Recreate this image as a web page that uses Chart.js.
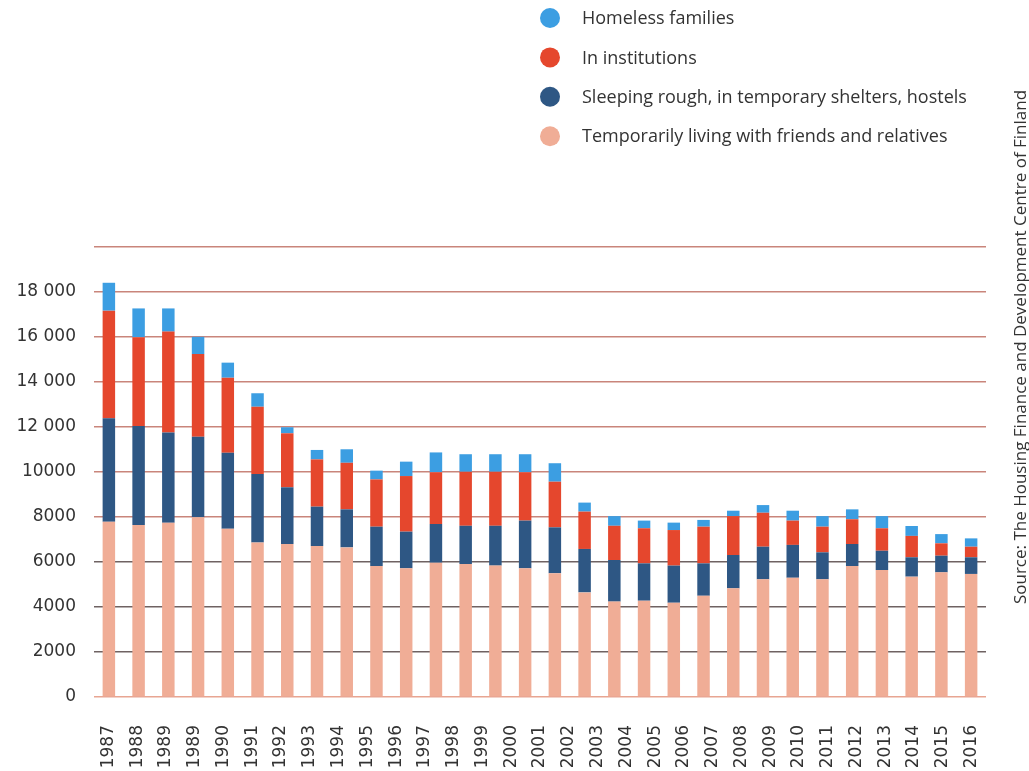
<!DOCTYPE html>
<html>
<head>
<meta charset="utf-8">
<script src="https://cdn.jsdelivr.net/npm/chart.js@4/dist/chart.umd.min.js"></script>
<style>
  html, body { margin: 0; padding: 0; background: #fff; }
  #wrap { width: 1029px; height: 771px; position: relative; }
</style>
</head>
<body>
<div id="wrap"><canvas id="homelessChart"></canvas></div>
<script>
// years of the bars (one bar per year)
const years = ['1987', '1988', '1989', '1990', '1991', '1992', '1993', '1994', '1995', '1996',
  '1997', '1998', '1999', '2000', '2001', '2002', '2003', '2004', '2005', '2006',
  '2007', '2008', '2009', '2010', '2011', '2012', '2013', '2014', '2015', '2016'];

// labels as printed under the axis (the original repeats 1989)
const printedYears = ['1987', '1988', '1989', '1989', '1990', '1991', '1992', '1993', '1994', '1995',
  '1996', '1997', '1998', '1999', '2000', '2001', '2002', '2003', '2004', '2005', '2006',
  '2007', '2008', '2009', '2010', '2011', '2012', '2013', '2014', '2015', '2016'];

const withFriends = [7790, 7640, 7750, 7990, 7480, 6870, 6800, 6710, 6650, 5820,
  5720, 5970, 5910, 5840, 5720, 5500, 4650, 4240, 4280, 4190,
  4500, 4830, 5230, 5300, 5230, 5820, 5640, 5350, 5540, 5470];
const sleepingRough = [4600, 4400, 4010, 3580, 3380, 3040, 2520, 1750, 1690, 1750,
  1630, 1720, 1700, 1770, 2120, 2040, 1930, 1850, 1660, 1650,
  1440, 1480, 1450, 1460, 1200, 980, 860, 860, 740, 740];
const institutions = [4780, 3950, 4480, 3670, 3330, 2990, 2400, 2100, 2070, 2100,
  2470, 2300, 2400, 2400, 2150, 2030, 1660, 1520, 1560, 1580,
  1630, 1730, 1510, 1080, 1140, 1100, 1000, 950, 550, 470];
const families = [1240, 1280, 1030, 770, 670, 600, 270, 420, 600, 390,
  640, 880, 780, 780, 800, 820, 400, 430, 340, 330,
  300, 240, 340, 440, 470, 440, 540, 440, 410, 370];

const yTickLabels = ['0', '2000', '4000', '6000', '8000', '10000', '12 000', '14 000', '16 000', '18 000', ''];

const seriesNames = [
  'Temporarily living with friends and relatives',
  'Sleeping rough, in temporary shelters, hostels',
  'In institutions',
  'Homeless families'
];
const seriesColors = ['#f0ad96', '#2e5784', '#e5472d', '#3c9ee2'];

const sourceText = 'Source: The Housing Finance and Development Centre of Finland';

// legend list in the top right corner, drawn on the canvas
const sideLegend = {
  id: 'sideLegend',
  afterDraw(chart) {
    const ctx = chart.ctx;
    const sets = chart.data.datasets.slice().reverse();
    ctx.save();
    ctx.font = '18px "Open Sans"';
    ctx.textBaseline = 'middle';
    ctx.textAlign = 'left';
    sets.forEach((ds, i) => {
      const y = 18 + i * 39.4;
      ctx.fillStyle = ds.backgroundColor;
      ctx.beginPath();
      ctx.arc(550, y, 10, 0, Math.PI * 2);
      ctx.fill();
      ctx.fillStyle = '#333';
      ctx.fillText(ds.label, 582, y + 1);
    });
    ctx.restore();
  }
};

// vertical source note on the right edge
const sourceNote = {
  id: 'sourceNote',
  afterDraw(chart) {
    const ctx = chart.ctx;
    ctx.save();
    ctx.translate(1021, 347);
    ctx.rotate(-Math.PI / 2);
    ctx.font = '17px "Open Sans"';
    ctx.fillStyle = '#333';
    ctx.textAlign = 'center';
    ctx.textBaseline = 'middle';
    ctx.fillText(sourceText, 0, 0);
    ctx.restore();
  }
};

const seriesData = [withFriends, sleepingRough, institutions, families];
const tickFont = { family: "'DejaVu Sans', Verdana, sans-serif", size: 17 };

new Chart(document.getElementById('homelessChart'), {
  type: 'bar',
  data: {
    labels: years,
    datasets: seriesData.map((d, i) => ({
      label: seriesNames[i],
      data: d,
      backgroundColor: seriesColors[i],
      borderWidth: 0,
      barPercentage: 0.42,
      categoryPercentage: 1.0
    }))
  },
  options: {
    responsive: true,
    maintainAspectRatio: false,
    animation: false,
    layout: {
      padding: { top: 247, left: 18, right: 43, bottom: 3 }
    },
    plugins: {
      legend: { display: false },
      tooltip: { enabled: false }
    },
    scales: {
      x: {
        display: false,
        stacked: true,
        offset: true
      },
      xLabels: {
        type: 'category',
        labels: printedYears,
        position: 'bottom',
        offset: true,
        grid: { display: false, drawTicks: false },
        border: { display: false },
        afterFit: (scale) => { scale.height = 71; },
        ticks: {
          autoSkip: false,
          minRotation: 90,
          maxRotation: 90,
          padding: 28,
          color: '#333',
          font: tickFont
        }
      },
      y: {
        stacked: true,
        min: 0,
        max: 20000,
        border: { display: false },
        afterFit: (scale) => { scale.width = 76; },
        grid: {
          drawTicks: false,
          lineWidth: 1.5,
          color: (c) => {
            const v = c.tick ? c.tick.value : 0;
            if (v === 0) return '#e8a592';
            if (v <= 6000) return '#6f6262';
            return '#c9857b';
          }
        },
        ticks: {
          stepSize: 2000,
          padding: 18,
          color: '#333',
          font: tickFont,
          callback: (value, index) => yTickLabels[index]
        }
      }
    }
  },
  plugins: [sideLegend, sourceNote]
});
</script>
</body>
</html>
